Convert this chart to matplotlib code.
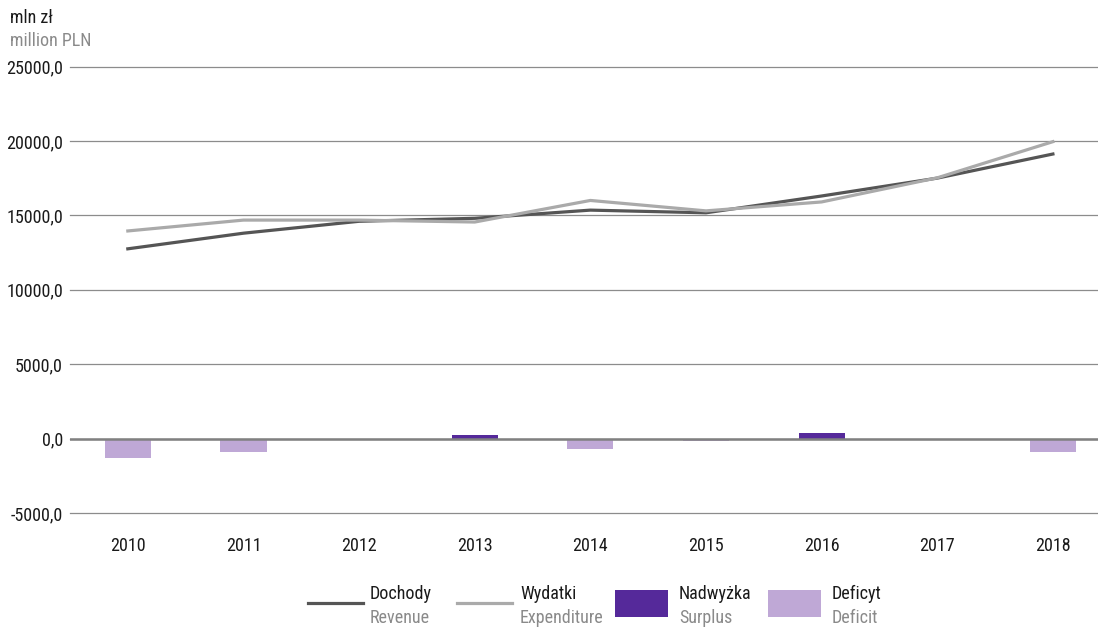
import matplotlib
matplotlib.use("Agg")
import matplotlib.pyplot as plt
from matplotlib.lines import Line2D
from matplotlib.patches import Rectangle
from matplotlib import font_manager
import numpy as np

years = ["2010", "2011", "2012", "2013", "2014", "2015", "2016", "2017", "2018"]
revenue = [12750, 13800, 14600, 14800, 15350, 15170, 16300, 17500, 19120]
expenditure = [13950, 14680, 14680, 14550, 16000, 15300, 15900, 17520, 19950]
balance = [-1300, -900, -120, 250, -700, -150, 400, -80, -900]
yticks = [-5000, 0, 5000, 10000, 15000, 20000, 25000]

available = {f.name for f in font_manager.fontManager.ttflist}
candidates = ["Roboto Condensed", "PT Sans Narrow", "Open Sans Condensed", "Fira Sans Condensed",
              "Encode Sans Condensed", "Asap Condensed", "Liberation Sans Narrow", "Roboto"]
FONT = next((c for c in candidates if c in available), "DejaVu Sans")
plt.rcParams['font.family'] = [FONT, 'DejaVu Sans']
FS = 13 if FONT != "Roboto" else 11

C_REV = "#555555"
C_EXP = "#aaaaaa"
C_SUR = "#55299a"
C_DEF = "#bfa8d6"

fig = plt.figure(figsize=(10.98, 6.28), dpi=100)
W, H = 1098, 628
ax = fig.add_axes([70 / W, 1 - 513 / H, 1 - 70 / W, (513 - 66.5) / H])

x = np.arange(len(years))
bar_colors = [C_SUR if v > 0 else C_DEF for v in balance]
ax.bar(x, balance, width=0.4, color=bar_colors, zorder=2)
ax.axhline(0, color="#808080", lw=1.8, zorder=3)
ax.plot(x, revenue, color=C_REV, lw=2.3, zorder=4)
ax.plot(x, expenditure, color=C_EXP, lw=2.3, zorder=4)

ax.set_xlim(-0.5, 8.39)
ax.set_ylim(-5000, 25000)
ax.set_yticks(yticks)
ax.set_yticklabels([f"{v:.1f}".replace(".", ",") for v in yticks], fontsize=FS)
ax.set_xticks(x)
ax.set_xticklabels(years, fontsize=FS)
ax.yaxis.grid(True, color="#8c8c8c", lw=0.9, zorder=0)
for gl in ax.get_ygridlines():
    gl.set_clip_on(False)
ax.set_axisbelow(True)
for s in ax.spines.values():
    s.set_visible(False)
ax.tick_params(axis="both", length=0, colors="#1a1a1a")
ax.tick_params(axis="x", pad=17)
ax.tick_params(axis="y", pad=5)

fig.text(10 / W, 1 - 18 / H, "mln zł", fontsize=FS, color="#1a1a1a", va="center")
fig.text(10 / W, 1 - 41 / H, "million PLN", fontsize=FS, color="#8a8a8a", va="center")

def fx(px):
    return px / W

def fy(py):
    return 1 - py / H

items = [
    ("line", C_REV, 308, 363, 370, "Dochody", "Revenue"),
    ("line", C_EXP, 457, 512, 520, "Wydatki", "Expenditure"),
    ("rect", C_SUR, 615, 668, 679, "Nadwyżka", "Surplus"),
    ("rect", C_DEF, 768, 821, 832, "Deficyt", "Deficit"),
]
for kind, col, x0, x1, tx, top, bot in items:
    if kind == "line":
        fig.add_artist(Line2D([fx(x0), fx(x1)], [fy(603), fy(603)], color=col, lw=2.3,
                              transform=fig.transFigure))
    else:
        fig.add_artist(Rectangle((fx(x0), fy(617)), fx(x1) - fx(x0), fy(590) - fy(617),
                                 color=col, transform=fig.transFigure, lw=0))
    fig.text(fx(tx), fy(594), top, fontsize=FS, color="#1a1a1a", va="center")
    fig.text(fx(tx), fy(618), bot, fontsize=FS, color="#8a8a8a", va="center")

fig.savefig("out.png", dpi=100)
